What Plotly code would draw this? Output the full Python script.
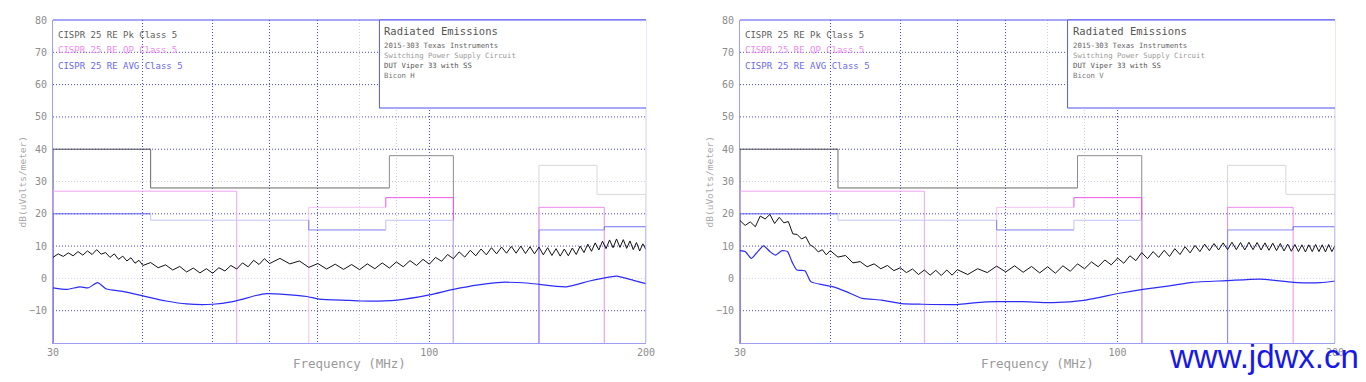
import math
import plotly.graph_objects as go

# ---------------- data ----------------
FREQ_RANGE = [30, 200]
LEVEL_RANGE = [-20, 80]
Y_TICKS = [-10, 0, 10, 20, 30, 40, 50, 60, 70, 80]
X_TICKS = [30, 100, 200]
X_GRID_MAJOR = [40, 50, 60, 70, 100]
X_GRID_MINOR = [80, 90]
Y_GRID_DARK = [-10, 10, 20, 40, 50, 60, 70]
Y_GRID_LIGHT = [0, 30]

# CISPR 25 class 5 limit bands (MHz, dBuV/m)
PK_LO = [30, 41, 88, 142, 171]
PK_HI = [41, 88, 108, 171, 200]
PK_LEVEL = [40, 28, 38, 35, 26]
QP_LO = [30, 68, 87, 142]
QP_HI = [54, 87, 108, 175]
QP_LEVEL = [27, 22, 25, 22]
AVG_LO = [30, 41, 68, 87, 142, 175]
AVG_HI = [41, 68, 87, 108, 175, 200]
AVG_LEVEL = [20, 18, 15, 18, 15, 16]

PEAK_FREQ = [30.0, 30.5, 31.0, 31.5, 32.0, 32.5, 33.0, 33.5, 34.0, 34.5, 35.0, 35.5, 36.0, 36.5,
             37.0, 37.5, 38.0, 38.5, 39.0, 39.5, 40.0,
             41, 42, 43, 44, 45, 46, 47, 48, 49, 50, 51, 52, 53, 54, 55, 56, 57, 58, 59, 60,
             62, 64, 66, 68, 70, 72, 74, 76, 78, 80, 82, 84, 86, 88, 90, 92, 94, 96, 98, 100,
             102, 104, 106, 108, 110, 112, 114, 116, 118, 120, 122, 124, 126, 128, 130, 132,
             134, 136, 138, 140, 142, 144, 146, 148, 150, 152, 154, 156, 158, 160, 162, 164,
             166, 168, 170, 172, 174, 176, 178, 180, 182, 184, 186, 188, 190, 192, 194, 196,
             198, 200]

LEFT_PEAK = [6.5, 7.6, 6.8, 7.9, 7.0, 8.3, 7.2, 8.5, 7.4, 8.9, 7.5, 8.0, 6.5, 7.6,
             5.9, 6.9, 5.4, 6.4, 4.7, 5.6, 4.0,
             4.9, 3.3, 4.2, 2.6, 3.7, 2.0, 3.2, 1.7, 3.0, 1.6, 3.3, 2.3, 4.0, 2.9, 4.8, 3.6, 5.6, 4.3, 6.1, 4.6,
             6.2, 4.5, 5.4, 3.4, 4.6, 2.9, 4.4, 2.8, 4.3, 2.7, 4.5, 3.0, 4.8, 3.2, 5.1, 3.6, 5.5, 4.0, 5.9, 4.4,
             6.5, 5.3, 7.4, 6.1, 8.2, 6.6, 8.7, 7.0, 9.1, 7.3, 9.5, 7.6, 9.7, 7.8, 9.9, 7.8,
             10.0, 7.7, 9.8, 7.6, 9.7, 7.3, 9.5, 7.1, 9.2, 6.9, 9.1, 7.0, 9.4, 7.4, 10.0, 8.0,
             10.6, 8.4, 11.0, 8.8, 11.5, 9.2, 11.9, 9.5, 12.2, 9.6, 12.0, 9.3, 11.6, 8.9, 11.1, 8.5,
             10.7, 8.9]

RIGHT_PEAK = [17.9, 16.4, 17.5, 16.0, 19.3, 18.4, 19.8, 17.0, 18.9, 17.2, 17.6, 13.8, 13.6, 12.2,
              12.9, 10.4, 9.6, 8.2, 8.9, 7.3, 8.6,
              6.6, 7.1, 4.8, 5.2, 3.6, 4.5, 3.0, 4.0, 2.4, 3.3, 1.8, 2.9, 1.2, 2.6, 1.0, 2.5, 0.9, 2.6, 1.0, 2.7,
              1.2, 3.0, 1.8, 3.8, 2.0, 3.9, 1.9, 3.7, 1.7, 3.6, 1.6, 3.9, 2.2, 4.5, 3.0, 5.1, 3.6, 5.7, 4.2, 6.3,
              4.7, 7.0, 5.5, 8.0, 6.1, 8.3, 6.5, 8.7, 6.8, 9.2, 7.4, 9.8, 7.9, 10.2, 8.3, 10.6,
              8.6, 10.8, 8.8, 11.0, 8.9, 11.2, 8.9, 11.1, 8.8, 11.2, 8.9, 11.1, 8.8, 11.0, 8.7, 10.9,
              8.6, 10.8, 8.5, 10.6, 8.4, 10.5, 8.3, 10.4, 8.2, 10.4, 8.3, 10.5, 8.3, 10.4, 8.2, 10.5,
              8.3, 10.2]

LEFT_AVG_FREQ = [30, 31.4, 32.7, 33.6, 34.6, 35.6, 37.5, 40, 43.1, 46, 50, 53.3, 55.1, 57.4, 59.5,
                 63.4, 67.6, 70.3, 77.5, 80.2, 90.2, 100, 108, 117, 126, 137.6, 155, 167, 174,
                 182, 190, 198, 200]
LEFT_AVG = [-2.9, -3.4, -2.6, -2.9, -1.3, -3.3, -4.0, -5.4, -7.0, -7.9, -8.0, -7.2, -6.4, -5.3, -4.7,
            -5.0, -5.6, -6.4, -6.8, -7.0, -6.7, -5.1, -3.4, -2.0, -1.2, -1.5, -2.6, -0.8, 0.0,
            0.7, -0.3, -1.4, -1.6]

RIGHT_AVG_FREQ = [30, 30.5, 31.1, 31.6, 32.35, 33.0, 33.6, 34.3, 34.9, 35.4, 35.97, 36.9, 37.6, 39.1,
                  40.4, 42.1, 44.3, 47.1, 50.2, 53.6, 59.9, 63.8, 68, 73.9, 81.3, 90.4, 100.6,
                  108.4, 118, 126.9, 141.5, 157.5, 175.2, 190.8, 200]
RIGHT_AVG = [8.6, 8.3, 6.2, 7.8, 10.1, 8.3, 7.2, 8.6, 8.3, 5.2, 2.6, 2.4, -1.0, -2.0,
             -2.6, -4.1, -6.2, -6.7, -7.8, -8.0, -8.1, -7.5, -7.2, -7.2, -7.5, -6.7, -4.6,
             -3.4, -2.3, -1.2, -0.7, -0.2, -1.2, -1.3, -0.8]

assert len(PEAK_FREQ) == len(LEFT_PEAK) == len(RIGHT_PEAK)
assert len(LEFT_AVG_FREQ) == len(LEFT_AVG)
assert len(RIGHT_AVG_FREQ) == len(RIGHT_AVG)

LIMIT_NAMES = ["CISPR 25 RE Pk Class 5", "CISPR 25 RE QP Class 5", "CISPR 25 RE AVG Class 5"]
BOX_TITLE = "Radiated Emissions"
BOX_LINES = ["2015-303 Texas Instruments", "Switching Power Supply Circuit", "DUT Viper 33 with SS"]
ANTENNA = ["Bicon H", "Bicon V"]
Y_TITLE = "dB(uVolts/meter)"
X_TITLE = "Frequency (MHz)"
WATERMARK = "www.jdwx.cn"

# ---------------- style ----------------
W, H = 1366, 382
MT, MB = 20, 39
PANELS = [(53, 646), (740, 1335)]
MONO = "DejaVu Sans Mono"
PK_COLORS = ["#4a4a4a", "#6a6a6a", "#8c8c8c", "#d6d6d6", "#dadada"]
QP_COLORS = ["#f2a2f2", "#f6c2f6", "#ee55ee", "#f08cf0"]
AVG_COLORS = ["#5c5cf0", "#c6c6f8", "#7e7ef0", "#c2c2f8", "#8a8af2", "#7474f0"]
GRID_DARK = "#4646f0"
GRID_LIGHT = "#cfcff6"
DOT = "1px,2px"


def band_paths(lo, hi, lev, floor):
    paths = []
    for i in range(len(lo)):
        start = lev[i - 1] if i > 0 and lo[i] == hi[i - 1] else floor
        xs = [lo[i], lo[i], hi[i]]
        ys = [start, lev[i], lev[i]]
        if i == len(lo) - 1 or lo[i + 1] != hi[i]:
            xs.append(hi[i])
            ys.append(floor)
        paths.append((xs, ys))
    return paths


fig = go.Figure()
annotations = []
shapes = []
floor = LEVEL_RANGE[0]
xrange_log = [math.log10(FREQ_RANGE[0]), math.log10(FREQ_RANGE[1])]

for p, (px0, px1) in enumerate(PANELS):
    xa = "x" if p == 0 else "x2"
    ya = "y" if p == 0 else "y2"
    axn = "" if p == 0 else "2"
    peak = LEFT_PEAK if p == 0 else RIGHT_PEAK
    avg_f = LEFT_AVG_FREQ if p == 0 else RIGHT_AVG_FREQ
    avg = LEFT_AVG if p == 0 else RIGHT_AVG

    # limits
    for (lo, hi, lev, cols) in [(PK_LO, PK_HI, PK_LEVEL, PK_COLORS),
                                (QP_LO, QP_HI, QP_LEVEL, QP_COLORS),
                                (AVG_LO, AVG_HI, AVG_LEVEL, AVG_COLORS)]:
        for (xs, ys), c in zip(band_paths(lo, hi, lev, floor), cols):
            fig.add_trace(go.Scatter(x=xs, y=ys, mode="lines", xaxis=xa, yaxis=ya,
                                     line=dict(color=c, width=1), hoverinfo="skip"))
    # measurements
    fig.add_trace(go.Scatter(x=PEAK_FREQ, y=peak, mode="lines", xaxis=xa, yaxis=ya,
                             line=dict(color="#111111", width=1)))
    fig.add_trace(go.Scatter(x=avg_f, y=avg, mode="lines", xaxis=xa, yaxis=ya,
                             line=dict(color="#2c2cf4", width=1.2, shape="spline", smoothing=0.6)))

    dom = [px0 / W, px1 / W]
    fig.update_layout(**{
        "xaxis" + axn: dict(domain=dom, type="log", range=xrange_log, anchor=ya, automargin=False,
                            tickmode="array", tickvals=X_TICKS + X_GRID_MAJOR,
                            ticktext=[str(v) for v in X_TICKS] + [""] * len(X_GRID_MAJOR),
                            showgrid=True, gridcolor=GRID_DARK, griddash=DOT, gridwidth=1,
                            minor=dict(tickmode="array", tickvals=X_GRID_MINOR, showgrid=True,
                                       gridcolor=GRID_LIGHT, griddash=DOT, gridwidth=1),
                            showline=True, linecolor="#9e9ef2", linewidth=1, ticks="",
                            zeroline=False, tickfont=dict(family=MONO, size=10, color="#8c8c8c")),
        "yaxis" + axn: dict(domain=[0, 1], range=LEVEL_RANGE, anchor=xa, tickmode="array",
                            automargin=False,
                            tickvals=Y_TICKS, showgrid=False, zeroline=False, showline=True,
                            linecolor="#9e9ef2", linewidth=1, ticks="", ticklabelstandoff=3,
                            tickfont=dict(family=MONO, size=10, color="#8c8c8c")),
    })

    # horizontal grid
    for yv in Y_GRID_DARK + Y_GRID_LIGHT:
        shapes.append(dict(type="line", xref=xa + " domain", yref=ya, x0=0, x1=1, y0=yv, y1=yv,
                           layer="below",
                           line=dict(color=GRID_DARK if yv in Y_GRID_DARK else GRID_LIGHT,
                                     width=1, dash=DOT)))
    # frame top / right
    shapes.append(dict(type="line", xref=xa + " domain", yref=ya + " domain", x0=0, x1=1, y0=1, y1=1,
                       line=dict(color="#5050f6", width=1)))
    shapes.append(dict(type="line", xref=xa + " domain", yref=ya + " domain", x0=1, x1=1, y0=0, y1=1,
                       line=dict(color="#d2d2f6", width=1)))
    # info box
    bx0 = 0.5505
    by0 = (H - MB - 108) / (H - MT - MB)
    shapes.append(dict(type="rect", xref=xa + " domain", yref=ya + " domain", x0=bx0, x1=1, y0=by0, y1=1,
                       fillcolor="white", line=dict(width=0), layer="above"))
    shapes.append(dict(type="line", xref=xa + " domain", yref=ya + " domain", x0=bx0, x1=bx0, y0=by0, y1=1,
                       line=dict(color="#5a5af2", width=1)))
    shapes.append(dict(type="line", xref=xa + " domain", yref=ya + " domain", x0=bx0, x1=1, y0=by0, y1=by0,
                       line=dict(color="#5050f2", width=1)))
    shapes.append(dict(type="line", xref=xa + " domain", yref=ya + " domain", x0=bx0, x1=1, y0=1, y1=1,
                       line=dict(color="#5050f6", width=1)))

    ph = H - MT - MB
    # legend-like limit names
    for name, ypx, col in zip(LIMIT_NAMES, [35, 50, 66], ["#5e5e5e", "#f28af2", "#6a6af2"]):
        annotations.append(dict(text=name, xref=xa + " domain", yref=ya + " domain",
                                x=3 / (px1 - px0), y=(H - MB - ypx) / ph, xanchor="left", yanchor="middle",
                                showarrow=False, font=dict(family=MONO, size=9, color=col)))
    # box text
    annotations.append(dict(text=BOX_TITLE, xref=xa + " domain", yref=ya + " domain",
                            x=bx0 + 3 / (px1 - px0), y=(H - MB - 31) / ph, xanchor="left", yanchor="middle",
                            showarrow=False, font=dict(family=MONO, size=10.5, color="#555555")))
    lines = BOX_LINES + [ANTENNA[p]]
    for k, (ln, col) in enumerate(zip(lines, ["#666666", "#9a9a9a", "#555555", "#777777"])):
        annotations.append(dict(text=ln, xref=xa + " domain", yref=ya + " domain",
                                x=bx0 + 3 / (px1 - px0), y=(H - MB - (45.5 + 10 * k)) / ph,
                                xanchor="left", yanchor="middle", showarrow=False,
                                font=dict(family=MONO, size=7.3, color=col)))
    # axis titles
    annotations.append(dict(text=Y_TITLE, xref="paper", yref=ya + " domain", x=(px0 - 31) / W, y=0.5,
                            textangle=-90, xanchor="center", yanchor="middle", showarrow=False,
                            font=dict(family=MONO, size=9.5, color="#aaaaaa")))
    annotations.append(dict(text=X_TITLE, xref=xa + " domain", yref="paper", x=0.5, y=(H - MB - 363) / ph,
                            xanchor="center", yanchor="middle", showarrow=False,
                            font=dict(family=MONO, size=12.5, color="#9a9a9a")))

annotations.append(dict(text=WATERMARK, xref="paper", yref="paper", x=1264 / W,
                        y=(H - MB - 356) / (H - MT - MB), xanchor="center", yanchor="middle",
                        showarrow=False, font=dict(family="Liberation Sans", size=33, color="#1818e8")))

fig.update_layout(width=W, height=H, autosize=False, margin=dict(l=0, r=0, t=MT, b=MB, pad=0),
                  paper_bgcolor="white", plot_bgcolor="white", showlegend=False,
                  annotations=annotations, shapes=shapes)

POST = ("document.documentElement.style.overflow='hidden';"
        "document.body.style.margin='0';document.body.style.overflow='hidden';"
        "var gd=document.getElementsByClassName('plotly-graph-div')[0];"
        "Plotly.relayout(gd,{width:%d,height:%d});" % (W, H))
fig.write_html("out.html", config={"displayModeBar": False, "responsive": False},
               post_script=POST)
